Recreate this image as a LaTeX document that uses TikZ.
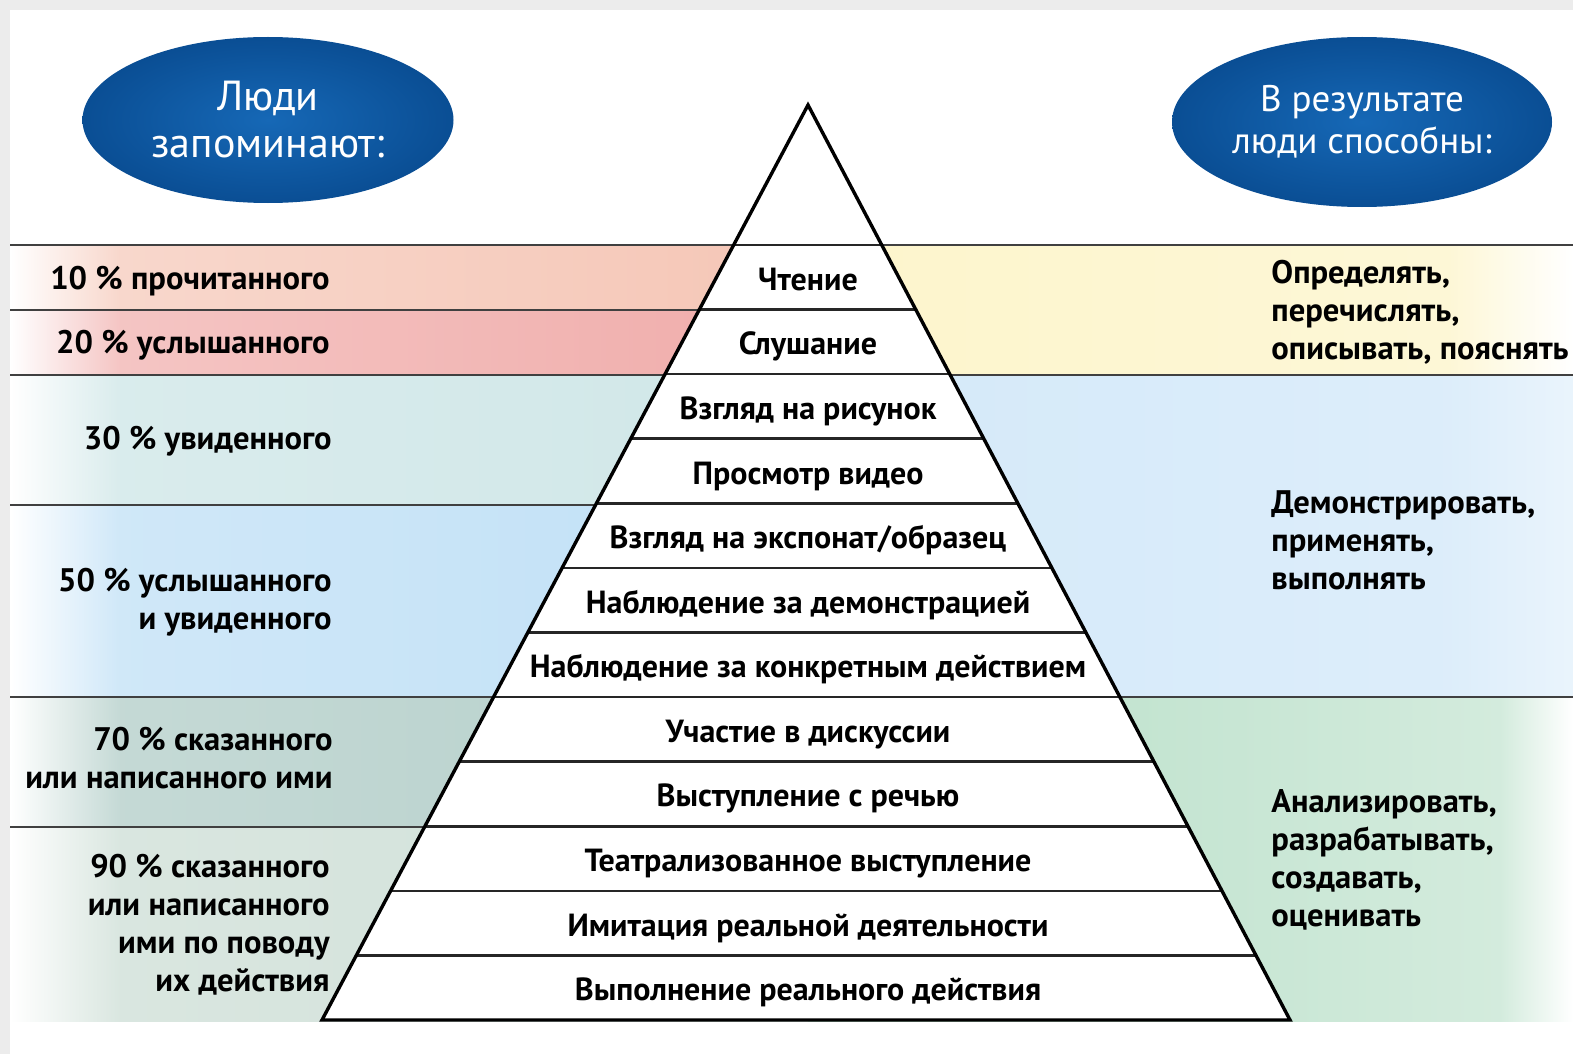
\documentclass[tikz,border=0pt]{standalone}
\usepackage{fontspec}
\setmainfont{PT Sans}
\usetikzlibrary{positioning,shapes.geometric}
\definecolor{framegray}{RGB}{236,236,236}
\definecolor{ovalin}{RGB}{22,104,182}
\definecolor{ovalout}{RGB}{10,78,148}
\definecolor{readband}{RGB}{245,198,182}
\definecolor{hearband}{RGB}{240,172,170}
\definecolor{seeband}{RGB}{208,231,232}
\definecolor{bothband}{RGB}{192,224,246}
\definecolor{sayband}{RGB}{182,208,203}
\definecolor{doband}{RGB}{208,224,216}
\definecolor{namingband}{RGB}{253,245,204}
\definecolor{applyband}{RGB}{212,233,249}
\definecolor{createband}{RGB}{182,222,198}

\begin{document}
\begin{tikzpicture}[x=0.5pt,y=-0.5pt,
        rowlabel/.style={inner sep=0pt, outer sep=0pt, minimum height=32.29pt, text height=11pt, text depth=3.2pt,
                         font=\fontsize{16}{19}\selectfont\bfseries},
        sidelabel/.style={inner sep=0pt, anchor=east, align=right, font=\fontsize{16.3}{19}\selectfont\bfseries},
        ablelabel/.style={inner sep=0pt, anchor=west, align=left, font=\fontsize{16.3}{19}\selectfont\bfseries},
        headoval/.style={ellipse, inner sep=0pt, inner color=ovalin, outer color=ovalout,
                         text=white, align=center, font=\fontsize{21}{23.5}\selectfont},
        bandline/.style={draw=black!75, line width=1pt}]
        \useasboundingbox (0,0) rectangle (1573,1054);
        \fill[framegray] (0,0) rectangle (1573,1054);
        \fill[white] (10,10) rectangle (1573,1054);
        % left bands
        \shade[left color=white, right color=readband!70] (10,245) rectangle (120,310);
        \shade[left color=readband!70, right color=readband] (120,245) rectangle (808,310);
        \shade[left color=white, right color=hearband!70] (10,310) rectangle (120,375);
        \shade[left color=hearband!70, right color=hearband] (120,375) rectangle (808,310);
        \shade[left color=white, right color=seeband!80] (10,375) rectangle (120,505);
        \shade[left color=seeband!80, right color=seeband] (120,375) rectangle (808,505);
        \shade[left color=white, right color=bothband!75] (10,505) rectangle (120,697);
        \shade[left color=bothband!75, right color=bothband] (120,505) rectangle (808,697);
        \shade[left color=white, right color=sayband!80] (10,697) rectangle (120,827);
        \shade[left color=sayband!80, right color=sayband] (120,697) rectangle (808,827);
        \shade[left color=white, right color=doband!80] (10,827) rectangle (120,1021);
        \shade[left color=doband!80, right color=doband] (120,827) rectangle (808,1021);
        % right bands
        \shade[left color=namingband, right color=namingband!80] (808,245) rectangle (1450,375);
        \shade[left color=namingband!80, right color=white] (1450,245) rectangle (1573,375);
        \shade[left color=applyband, right color=applyband!80] (808,375) rectangle (1450,697);
        \shade[left color=applyband!80, right color=applyband!50] (1450,375) rectangle (1573,697);
        \shade[left color=createband, right color=createband!60] (808,697) rectangle (1500,1021);
        \shade[left color=createband!60, right color=white] (1500,697) rectangle (1573,1021);
        % band borders
        \draw[bandline] (10,245) -- (808,245) (10,310) -- (808,310) (10,375) -- (808,375)
                        (10,505) -- (808,505) (10,697) -- (808,697) (10,827) -- (808,827);
        \draw[bandline] (808,245) -- (1573,245) (808,375) -- (1573,375) (808,697) -- (1573,697);
        % pyramid
        \fill[white] (808,105) -- (1290,1020) -- (322,1020) -- cycle;
        \begin{scope}
        \clip (808,105) -- (1290,1020) -- (322,1020) -- cycle;
        \foreach \k in {0,...,11}
            \draw[black!85, line width=1.3pt] (300,245+64.583*\k) -- (1300,245+64.583*\k);
        \end{scope}
        \draw[line width=1.7pt, line join=miter] (808,105) -- (1290,1020) -- (322,1020) -- cycle;
        % pyramid rows
        \node[rowlabel] (reading) at (808,282.5) {Чтение};
        \node[rowlabel] (listening) [below=0pt of reading] {Слушание};
        \node[rowlabel] (picture) [below=0pt of listening] {Взгляд на рисунок};
        \node[rowlabel] (video) [below=0pt of picture] {Просмотр видео};
        \node[rowlabel] (exhibit) [below=0pt of video] {Взгляд на экспонат/образец};
        \node[rowlabel] (demo) [below=0pt of exhibit] {Наблюдение за демонстрацией};
        \node[rowlabel] (action) [below=0pt of demo] {Наблюдение за конкретным действием};
        \node[rowlabel] (discussion) [below=0pt of action] {Участие в дискуссии};
        \node[rowlabel] (speech) [below=0pt of discussion] {Выступление с речью};
        \node[rowlabel] (theatre) [below=0pt of speech] {Театрализованное выступление};
        \node[rowlabel] (imitation) [below=0pt of theatre] {Имитация реальной деятельности};
        \node[rowlabel] (realdeed) [below=0pt of imitation] {Выполнение реального действия};
        % left labels
        \node[sidelabel] (tenpct) at (330,281) {10 \% прочитанного};
        \node[sidelabel] (twentypct) at (330,345) {20 \% услышанного};
        \node[sidelabel] (thirtypct) at (332,441) {30 \% увиденного};
        \node[sidelabel] (fiftypct) at (332,602) {50 \% услышанного\\и увиденного};
        \node[sidelabel] (seventypct) at (333,758) {70 \% сказанного\\или написанного ими};
        \node[sidelabel] (ninetypct) at (330,925) {90 \% сказанного\\или написанного\\ими по поводу\\их действия};
        % right labels
        \node[ablelabel] (naming) at (1271,312) {Определять,\\перечислять,\\описывать, пояснять};
        \node[ablelabel] (applying) at (1271,540) {Демонстрировать,\\применять,\\выполнять};
        \node[ablelabel] (creating) at (1271,860) {Анализировать,\\разрабатывать,\\создавать,\\оценивать};
        % headings
        \node[headoval, minimum width=185.5pt, minimum height=83pt] (remember) at (268,120) {Люди\\запоминают:};
        \node[headoval, minimum width=190pt, minimum height=85pt, font=\fontsize{18.5}{21}\selectfont] (able) at (1362,122) {В результате\\люди способны:};
\end{tikzpicture}
\end{document}
